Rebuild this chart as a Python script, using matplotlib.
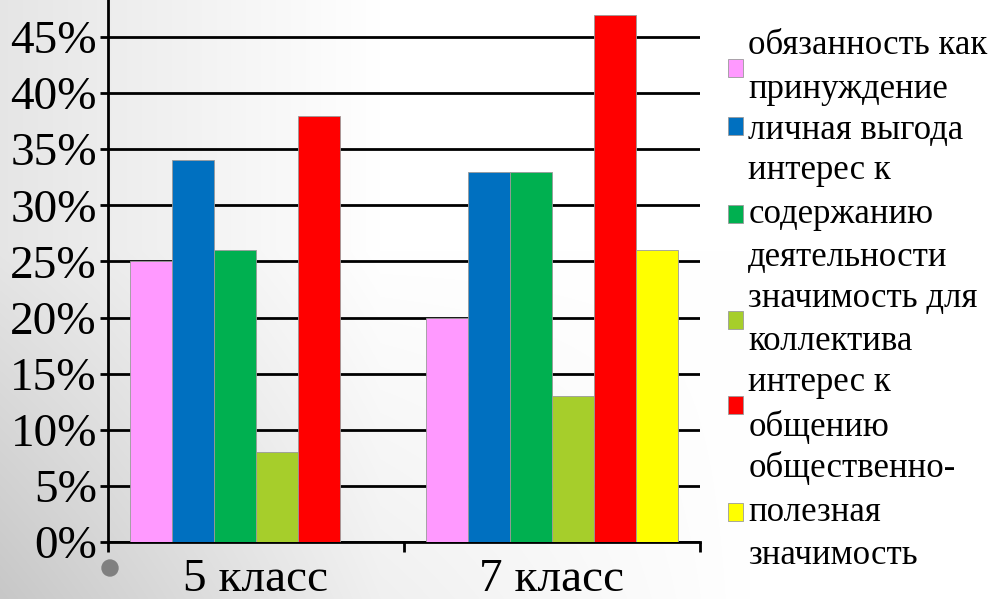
import matplotlib
matplotlib.use("Agg")
import matplotlib.pyplot as plt
import numpy as np
from matplotlib.patches import Ellipse

plt.rcParams['font.family'] = ['Liberation Serif', 'DejaVu Serif']

# data
categories = ['5 класс', '7 класс']
series_names = ['обязанность как\nпринуждение',
                'личная выгода',
                'интерес к\nсодержанию\nдеятельности',
                'значимость для\nколлектива',
                'интерес к\nобщению',
                'общественно-\nполезная\nзначимость']
duty = [25, 20]
benefit = [34, 33]
content = [26, 33]
team = [8, 13]
communication = [38, 47]
useful = [0, 26]
colors = ['#FF99FF', '#0070C0', '#00B050', '#A6CE2B', '#FF0000', '#FFFF00']
yticks = [0, 5, 10, 15, 20, 25, 30, 35, 40, 45]

all_series = [duty, benefit, content, team, communication, useful]

W, H = 999, 599
fig = plt.figure(figsize=(W / 100, H / 100), dpi=100)

# grey-to-white slide background
bg = fig.add_axes([0, 0, 1, 1], zorder=-5)
xx, yy = np.meshgrid(np.arange(W), np.arange(H))
g = 1 - 0.10 * np.clip(1 - xx / 380, 0, 1) \
    - 0.12 * np.clip((yy - 250) / 350, 0, 1) * np.clip(1 - xx / 750, 0, 1)
bg.imshow(np.dstack([g, g, g]), extent=[0, 1, 0, 1], aspect='auto', origin='upper')
bg.axis('off')

ax = fig.add_axes([108 / W, (H - 542) / H, 592 / W, 542 / H])
ax.set_facecolor('none')

x = np.arange(len(categories)) + 0.5
w = 42 / 296
for i, (vals, col, name) in enumerate(zip(all_series, colors, series_names)):
    ax.bar(x + (i - 2.5) * w, vals, width=w, color=col, label=name,
           edgecolor='#9a9a9a', linewidth=0.6, zorder=3)

ax.set_xlim(0, 2)
ax.set_ylim(0, 48.3)
ax.set_yticks(yticks)
ax.set_yticklabels(['%d%%' % t for t in yticks])
ax.yaxis.grid(True, color='black', linewidth=2)
ax.set_axisbelow(True)
ax.tick_params(axis='y', length=6, width=2, pad=2, labelsize=34, colors='black')

ax.set_xticks([0, 1, 2])
ax.set_xticklabels([])
ax.set_xticks(x, minor=True)
ax.set_xticklabels(categories, minor=True)
ax.tick_params(axis='x', which='major', length=7, width=2)
ax.tick_params(axis='x', which='minor', length=0, pad=12, labelsize=34)

for s in ['top', 'right']:
    ax.spines[s].set_visible(False)
for s in ['left', 'bottom']:
    ax.spines[s].set_linewidth(2)

leg = ax.legend(loc='upper left', bbox_to_anchor=(711 / W, 1 - 12 / H),
                bbox_transform=fig.transFigure, frameon=False, fontsize=25,
                handlelength=0.42, handleheight=0.42, handletextpad=0.15,
                labelspacing=0.22, borderpad=0)
for t in leg.get_texts():
    t.set_linespacing(1.42)

fig.patches.append(Ellipse((110 / W, 1 - 568 / H), 16 / W, 16 / H,
                           transform=fig.transFigure, color='#808080'))

plt.savefig('out.png', dpi=100)
